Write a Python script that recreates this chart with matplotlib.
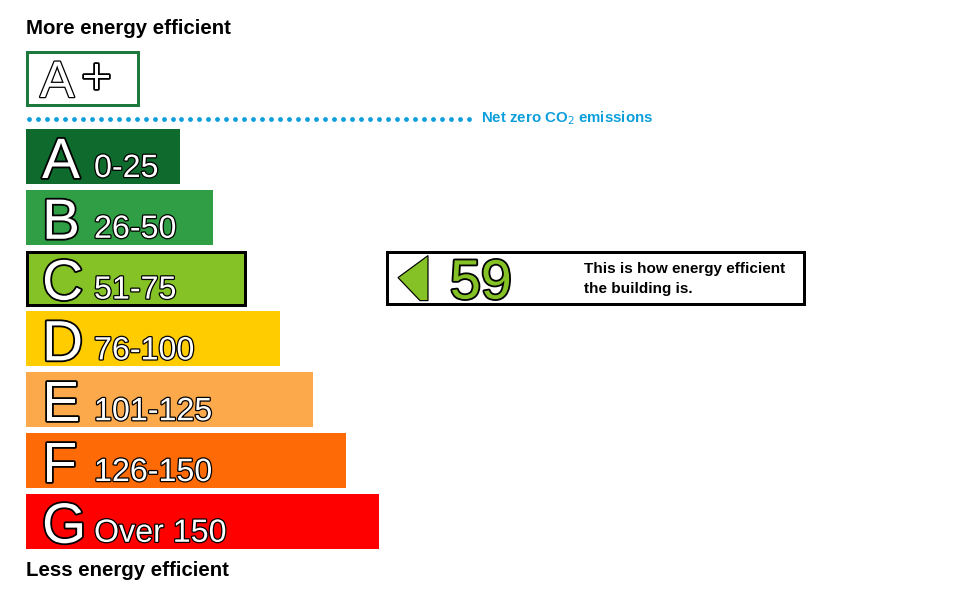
import matplotlib
matplotlib.use("Agg")
import matplotlib.pyplot as plt
import matplotlib.patheffects as pe
from matplotlib.patches import Rectangle, Polygon
import numpy as np

plt.rcParams['font.family'] = ['Liberation Sans', 'DejaVu Sans']

# Data
bands = ["A", "B", "C", "D", "E", "F", "G"]
ranges = ["0-25", "26-50", "51-75", "76-100", "101-125", "126-150", "Over 150"]
colors = ["#0f6b2d", "#2f9e44", "#85c226", "#ffcc00", "#fba94a", "#fe6a05", "#ff0000"]
current_score = 59
current_band = "C"
top_label = "More energy efficient"
bottom_label = "Less energy efficient"
netzero_label = "Net zero CO$_2$ emissions"
indicator_text = "This is how energy efficient\nthe building is."

W, H = 956, 591
fig = plt.figure(figsize=(W / 100, H / 100), dpi=100)
ax = fig.add_axes([0, 0, 1, 1])
ax.set_xlim(0, W)
ax.set_ylim(H, 0)
ax.axis("off")

px = 72 / 100  # points per pixel

x0 = 26
top0 = 129
pitch = 60.8
bh = 55
w0 = 154
dw = 33.2

outline = [pe.withStroke(linewidth=2.6, foreground="black")]
outline_thin = [pe.withStroke(linewidth=1.8, foreground="black")]

for i, (b, r, c) in enumerate(zip(bands, ranges, colors)):
    y = top0 + i * pitch
    w = w0 + i * dw
    ax.barh(y + bh / 2, w, height=bh, left=x0, color=c, zorder=1)
    if b == current_band:
        ax.add_patch(Rectangle((x0 + 1, y + 1), w - 2, bh - 2, fill=False,
                               edgecolor="black", linewidth=3 * px, zorder=2))
    ax.text(x0 + 16, y + 49, b, fontsize=41, color="white", ha="left",
            va="baseline", path_effects=outline, zorder=3)
    ax.text(x0 + 68, y + 48, r, fontsize=23.2, color="white", ha="left",
            va="baseline", path_effects=outline_thin, zorder=3)

# A+ box
ax.add_patch(Rectangle((27.5, 51.5), 111, 53, facecolor="white",
                       edgecolor="#1d7a3c", linewidth=3 * px, zorder=2))
ax.text(40, 97, "A", fontsize=37, color="white", ha="left", va="baseline",
        path_effects=outline_thin, zorder=3)
ax.text(82, 93, "+", fontsize=36, color="white", ha="left", va="baseline",
        path_effects=outline, zorder=3)

# Net zero dotted line
dots = np.arange(29, 470, 8.97)
ax.scatter(dots, np.full_like(dots, 118.5), s=(4.8 * px) ** 2, color="#0c9fdc",
           linewidths=0, zorder=3)
ax.text(481, 118.5, netzero_label, fontsize=10.8, fontweight="bold", color="#0c9fdc",
        ha="left", va="center")

# Top / bottom labels
ax.text(26, 28, top_label, fontsize=14.7, fontweight="bold", color="black",
        ha="left", va="center")
ax.text(26, 570, bottom_label, fontsize=14.7, fontweight="bold", color="black",
        ha="left", va="center")

# Indicator
ci = bands.index(current_band)
iy = top0 + ci * pitch
ax.add_patch(Rectangle((387.5, iy + 1.5), 417, bh - 3, facecolor="white",
                       edgecolor="black", linewidth=3 * px, zorder=2))
ax.add_patch(Polygon([(398, iy + 27), (428, iy + 5), (428, iy + 50), (420, iy + 50)],
                     closed=True, facecolor=colors[ci], edgecolor="black",
                     linewidth=1.2 * px, zorder=3))
ax.text(450, iy + 48, str(current_score), fontsize=40, color=colors[ci], ha="left",
        va="baseline", path_effects=outline, zorder=3)
ax.text(584, iy + 28, indicator_text, fontsize=11, fontweight="bold", color="black",
        ha="left", va="center", linespacing=1.55, zorder=3)

fig.savefig("out.png", dpi=100)
